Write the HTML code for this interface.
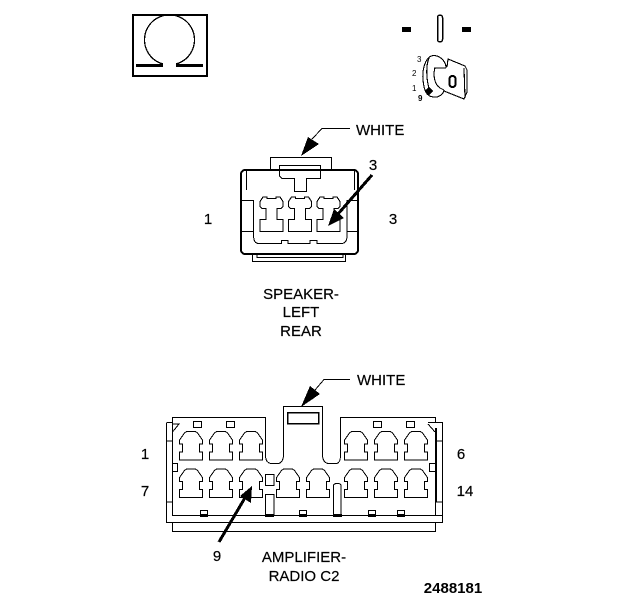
<!DOCTYPE html>
<html><head><meta charset="utf-8"><style>
html,body{margin:0;padding:0;background:#fff}
svg{display:block}
text{font-family:"Liberation Sans",sans-serif;font-size:15px;fill:#000;stroke:#000;stroke-width:.2px}
path,rect{shape-rendering:crispEdges}
</style></head><body>
<svg width="624" height="600" viewBox="0 0 624 600" xmlns="http://www.w3.org/2000/svg">
<defs>
<path id="c" d="M7,0.500H16L18,2L23,9V13H20V21H23V29H0V21H3V13H0V9L5,2Z" fill="none" stroke="#000" stroke-width="1"/>
<path id="t" d="M3,0.500H7V2H16V0.500H20L23,5V10L21,12H17V23H23V35H0V23H6V12H2L0,10V5Z" fill="none" stroke="#000" stroke-width="1"/>
</defs>
<!-- omega -->
<rect x="133" y="15" width="74" height="61" fill="none" stroke="#000" stroke-width="2"/>
<path d="M163,64A25,25 0 1 1 176,64" fill="none" stroke="#000" stroke-width="1.300"/>
<path d="M136,65.500H163M176,65.500H203" stroke="#000" stroke-width="3" fill="none"/>
<!-- key -->
<rect x="402" y="27" width="9" height="5" fill="#000"/>
<rect x="462" y="27" width="9" height="5" fill="#000"/>
<rect x="437.500" y="15" width="5" height="27" rx="2.500" fill="none" stroke="#000" stroke-width="1.500"/>
<g fill="none" stroke="#000" stroke-width="1.100">
<path d="M446,68C446,60 438,54 431,56C425,59 422,70 423,80C424,90 426,96 433,97C438,98 443,95 444,90"/>
<path d="M429,58C426,65 426,78 429,88"/>
<path d="M434,68H446M435,68C433,74 434,84 440,88L444,90"/>
<path d="M447,67L448,59L465,66L467,70V92L464,99L444,91"/>
<path d="M464,68L465,98"/>
</g>
<rect x="426" y="88" width="6" height="6" transform="rotate(45 429 91)" fill="#000"/>
<rect x="449.500" y="76" width="6" height="11" rx="3" fill="none" stroke="#000" stroke-width="2.200"/>
<text x="417" y="62" style="font-size:8px;stroke-width:0">3</text>
<text x="412" y="76" style="font-size:8px;stroke-width:0">2</text>
<text x="412" y="91" style="font-size:8px;stroke-width:0">1</text>
<text x="418" y="101" style="font-size:8px;font-weight:bold;stroke-width:0">9</text>
<!-- speaker connector -->
<g fill="none" stroke="#000" stroke-width="1">
<path d="M270.500,170V157.500H331.500V170"/>
<path d="M279.500,170V165.500H320.500V178.500H306.500V191.500H294.500V178.500H282L279.500,176V170"/>
<rect x="241" y="170" width="117" height="84" rx="4" stroke-width="2"/>
<path d="M246.500,170V190M354.500,170V190"/>
<path d="M242,200.500H253.500V234C253.500,241 255,243.500 259,243.500H281.500V240.500H288V243.500H310V240.500H317V243.500H341C345,243.500 347,241 347,236V200.500H358M242,231.500H253.500M347,231.500H358"/>
<path d="M252.500,254V261.500H345.500V254M257,254V257.500H343V254"/>
</g>
<use href="#t" x="260" y="196.500"/>
<use href="#t" x="288.500" y="196.500"/>
<use href="#t" x="317" y="196.500"/>
<!-- amplifier connector -->
<g fill="none" stroke="#000" stroke-width="1">
<path d="M172.500,515.500V417.500H265.500V455C265.500,460 267,463.500 272,463.500H278C281,463.500 283.500,460 283.500,455V406.500H322.500V455C322.500,460 325,463.500 329,463.500H336C339,463.500 340.500,460 340.500,455V417.500H435.500V422"/>
<path d="M172,515.500H443"/>
<path d="M166.500,423V522.500H442.500V422.500H428M172,422.500H166.500"/>
<path d="M172.500,522V531.500H435.500V522"/>
<path d="M172.500,432L179,424H172.500M435,432L428,424"/>
<path d="M435.500,428V515M436.500,428V502"/>
<path d="M166.500,441H172M166.500,502H172M436,441H442M436,502H442"/>
<rect x="287.500" y="412.500" width="31" height="11" stroke-width="1.500"/>
<rect x="172.500" y="463.500" width="5" height="8"/>
<rect x="429.500" y="463.500" width="6" height="8"/>
<rect x="265.500" y="474.500" width="8.500" height="11"/>
<path d="M265.500,515V494.500H274V515"/>
<path d="M333.500,515V486C333.500,484 335,483.500 337,483.500C340,483.500 341,484 341,486V515"/>
<rect x="193.500" y="421.500" width="8" height="6"/><rect x="226.500" y="421.500" width="8" height="6"/>
<rect x="373.500" y="421.500" width="8" height="6"/><rect x="406.500" y="421.500" width="8" height="6"/>
<rect x="200.500" y="510.500" width="7" height="5"/><rect x="299.500" y="510.500" width="7" height="5"/>
<rect x="368.500" y="510.500" width="7" height="5"/><rect x="397.500" y="510.500" width="7" height="5"/>
</g>
<path d="M265,514h9v3h-9zM333,514h9v3h-9zM200,514h8v3h-8zM299,514h8v3h-8zM368,514h8v3h-8zM397,514h8v3h-8z" fill="#000"/>
<use href="#c" x="179.500" y="431"/><use href="#c" x="209.500" y="431"/><use href="#c" x="239.500" y="431"/>
<use href="#c" x="344.500" y="431"/><use href="#c" x="374.500" y="431"/><use href="#c" x="404.500" y="431"/>
<use href="#c" x="179.500" y="468.500"/><use href="#c" x="209.500" y="468.500"/><use href="#c" x="239.500" y="468.500"/>
<use href="#c" x="276.500" y="468.500"/><use href="#c" x="306.500" y="468.500"/>
<use href="#c" x="344.500" y="468.500"/><use href="#c" x="374.500" y="468.500"/><use href="#c" x="404.500" y="468.500"/>
<!-- arrows -->
<g stroke="#000" fill="#000">
<path d="M350,128.500H322L312,139" fill="none" stroke-width="1"/>
<path d="M301,156L308,137L319,144Z" stroke="none"/>
<path d="M372,175L338,214" stroke-width="3" fill="none"/>
<path d="M328,226L334,209L344,218Z" stroke="none"/>
<path d="M350,379.500H324L315,390" fill="none" stroke-width="1"/>
<path d="M301,407L310,386L320,394Z" stroke="none"/>
<path d="M219,542L246,496" stroke-width="3" fill="none"/>
<path d="M252,486L251,503L240,496Z" stroke="none"/>
</g>
<!-- labels -->
<text x="356" y="135">WHITE</text>
<text x="357" y="385">WHITE</text>
<text x="373" y="170" text-anchor="middle">3</text>
<text x="208" y="224" text-anchor="middle">1</text>
<text x="393" y="224" text-anchor="middle">3</text>
<text x="301" y="299" text-anchor="middle">SPEAKER-</text>
<text x="301" y="317" text-anchor="middle">LEFT</text>
<text x="301" y="336" text-anchor="middle">REAR</text>
<text x="145" y="459" text-anchor="middle">1</text>
<text x="145" y="496" text-anchor="middle">7</text>
<text x="461" y="459" text-anchor="middle">6</text>
<text x="465" y="496" text-anchor="middle">14</text>
<text x="217" y="561" text-anchor="middle">9</text>
<text x="304" y="562" text-anchor="middle">AMPLIFIER-</text>
<text x="304" y="581" text-anchor="middle">RADIO C2</text>
<text x="453" y="593" text-anchor="middle" style="font-weight:bold;font-size:15px;stroke-width:0">2488181</text>
</svg>
</body></html>
